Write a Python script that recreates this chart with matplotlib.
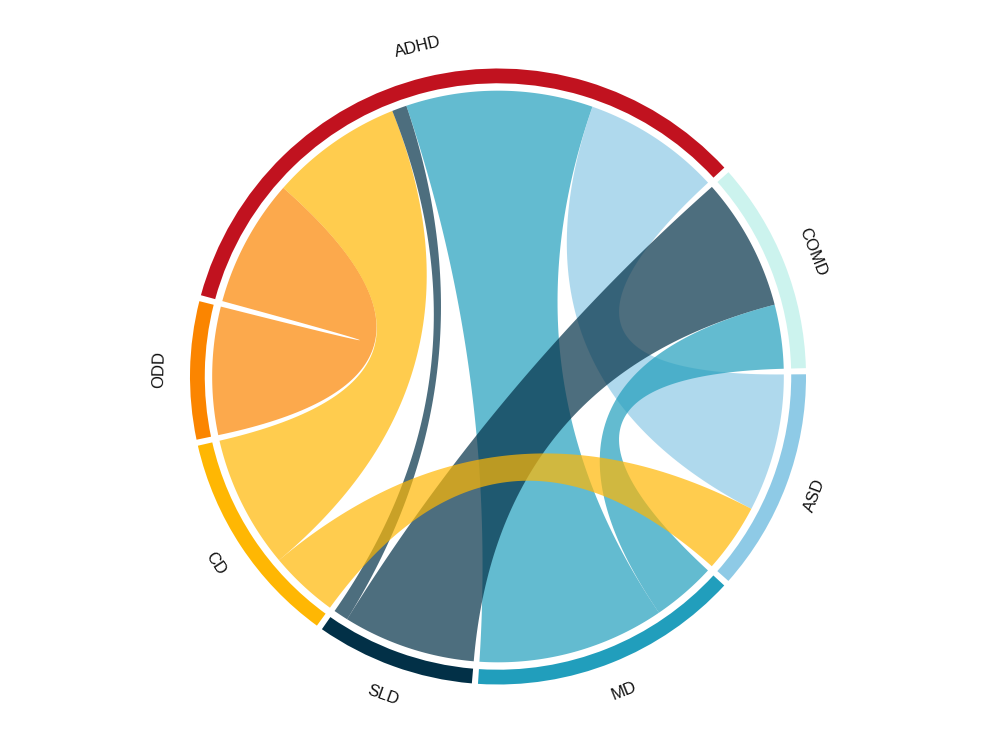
import numpy as np
import matplotlib
matplotlib.use("Agg")
import matplotlib.pyplot as plt
from matplotlib.patches import Wedge, Polygon

# ---- data ----
nodes = ["ADHD", "COMD", "ASD", "MD", "SLD", "CD", "ODD"]  # clockwise order
node_colors = ["#c1121f", "#ccf3ee", "#8ecae6", "#219ebc", "#023047", "#ffb703", "#fb8500"]
link_source = ["ADHD", "ADHD", "ADHD", "ADHD", "ADHD", "COMD", "COMD", "ASD"]
link_target = ["ODD", "CD", "SLD", "MD", "ASD", "SLD", "MD", "CD"]
link_value = [26, 27, 3, 38, 28, 27, 13, 14]

# ---- layout ----
start_deg = 164.7        # math angle where first node begins (going clockwise)
R_OUT, R_IN, R_CH, R_LAB = 1.0, 0.952, 0.928, 1.10
n = len(nodes)
totals = {k: 0 for k in nodes}
for s, t, v in zip(link_source, link_target, link_value):
    totals[s] += v
    totals[t] += v
gap = (360 - sum(totals.values())) / n

node_start = {}
a = start_deg
for k in nodes:
    node_start[k] = a
    a -= totals[k] + gap

idx = {k: i for i, k in enumerate(nodes)}
# sub-arcs: within each node, order partners by clockwise offset (descending)
ends = {}
for k in nodes:
    links = []
    for li, (s, t, v) in enumerate(zip(link_source, link_target, link_value)):
        if s == k:
            links.append((li, t, v))
        elif t == k:
            links.append((li, s, v))
    links.sort(key=lambda x: -((idx[x[1]] - idx[k]) % n))
    pos = node_start[k]
    for li, other, v in links:
        ends[(li, k)] = (pos, pos - v)
        pos -= v

fig = plt.figure(figsize=(9.83, 7.5), dpi=100)
ax = fig.add_axes([0, 0, 1, 1])
cx, cy, sc = 498.0, 376.5, 308.0
ax.set_xlim(-cx / sc, (983 - cx) / sc)
ax.set_ylim(-(750 - cy) / sc, cy / sc)
ax.axis("off")


def arc_pts(a1, a2, r, num=60):
    th = np.radians(np.linspace(a1, a2, num))
    return np.column_stack([r * np.cos(th), r * np.sin(th)])


def bez(p0, p2, num=80):
    t = np.linspace(0, 1, num)[:, None]
    return (1 - t) ** 2 * p0 + (t ** 2) * p2


# chords
for li, (s, t, v) in enumerate(zip(link_source, link_target, link_value)):
    a1, a2 = ends[(li, s)]
    b1, b2 = ends[(li, t)]
    A = arc_pts(a1, a2, R_CH)
    B = arc_pts(b1, b2, R_CH)
    c1 = bez(A[-1], B[0])
    c2 = bez(B[-1], A[0])
    pts = np.vstack([A, c1, B, c2])
    col = node_colors[idx[t]]
    ax.add_patch(Polygon(pts, closed=True, facecolor=col, alpha=0.7,
                         edgecolor="none", linewidth=0, zorder=2))

# ring + labels
for k, col in zip(nodes, node_colors):
    a1 = node_start[k]
    a2 = a1 - totals[k]
    ax.add_patch(Wedge((0, 0), R_OUT, a2, a1, width=R_OUT - R_IN,
                       facecolor=col, edgecolor="none", zorder=3))
    mid = (a1 + a2) / 2
    rot = (mid - 90) % 360
    if 90 < rot < 270:
        rot -= 180
    th = np.radians(mid)
    ax.text(R_LAB * np.cos(th), R_LAB * np.sin(th), k, rotation=rot,
            rotation_mode="anchor", ha="center", va="center",
            fontsize=12, family=["Liberation Sans", "DejaVu Sans"], color="#111111")

fig.savefig("out.png", dpi=100, facecolor="white")
